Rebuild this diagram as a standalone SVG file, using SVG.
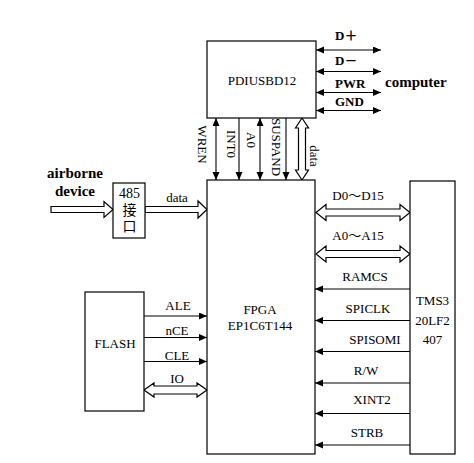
<svg xmlns="http://www.w3.org/2000/svg" width="474" height="463" viewBox="0 0 474 463">
<style>
.box{fill:#fff;stroke:#000;stroke-width:1.2}
.ln{fill:none;stroke:#000;stroke-width:1.1}
.hol{fill:#fff;stroke:#000;stroke-width:1.2;stroke-linejoin:miter}
.t{font-family:'Liberation Serif','DejaVu Serif',serif;font-size:13px;fill:#000}
.tb{font-family:'Liberation Serif','DejaVu Serif',serif;font-size:13px;font-weight:bold;fill:#000}
.cjk{font-family:'Liberation Serif','Noto Sans CJK SC',serif}
.big{font-size:15px}
.m{text-anchor:middle}
</style>
<defs>
<marker id="ah" markerUnits="userSpaceOnUse" markerWidth="9" markerHeight="8" refX="8" refY="3.5" orient="auto-start-reverse">
<path d="M0,0 L8,3.5 L0,7 z" fill="#000"/>
</marker>
</defs>
<rect width="474" height="463" fill="#fff"/>
<g id="connectors">
<line class="ln" x1="316" y1="50" x2="381" y2="50" marker-start="url(#ah)" marker-end="url(#ah)"/>
<line class="ln" x1="316" y1="71.5" x2="381" y2="71.5" marker-start="url(#ah)" marker-end="url(#ah)"/>
<line class="ln" x1="316" y1="92.5" x2="381" y2="92.5" marker-start="url(#ah)" marker-end="url(#ah)"/>
<line class="ln" x1="316" y1="110.5" x2="381" y2="110.5" marker-start="url(#ah)" marker-end="url(#ah)"/>
<line class="ln" x1="216" y1="118" x2="216" y2="180" marker-start="url(#ah)" marker-end="url(#ah)"/>
<line class="ln" x1="239" y1="118" x2="239" y2="180" marker-end="url(#ah)"/>
<line class="ln" x1="260" y1="118" x2="260" y2="180" marker-start="url(#ah)" marker-end="url(#ah)"/>
<line class="ln" x1="286" y1="118" x2="286" y2="180" marker-end="url(#ah)"/>
<polygon class="hol" points="302,118 308.5,128 305.5,128 305.5,170 308.5,170 302,180 295.5,170 298.5,170 298.5,128 295.5,128"/>
<polygon class="hol" points="51,206.5 104,206.5 104,201.5 113,209.5 104,217.5 104,212.5 51,212.5"/>
<polygon class="hol" points="145,206.5 198,206.5 198,201 207,209.5 198,218 198,212.5 145,212.5"/>
<polygon class="hol" points="316,212.5 326,204.5 326,209 400,209 400,204.5 410,212.5 400,220.5 400,216 326,216 326,220.5"/>
<polygon class="hol" points="316,254 326,246 326,250.5 400,250.5 400,246 410,254 400,262 400,257.5 326,257.5 326,262"/>
<line class="ln" x1="410" y1="289" x2="315" y2="289" marker-end="url(#ah)"/>
<line class="ln" x1="410" y1="320.5" x2="315" y2="320.5" marker-end="url(#ah)"/>
<line class="ln" x1="410" y1="351.5" x2="315" y2="351.5" marker-end="url(#ah)"/>
<line class="ln" x1="410" y1="383" x2="315" y2="383" marker-end="url(#ah)"/>
<line class="ln" x1="410" y1="413.5" x2="315" y2="413.5" marker-end="url(#ah)"/>
<line class="ln" x1="410" y1="445" x2="315" y2="445" marker-end="url(#ah)"/>
<line class="ln" x1="144" y1="316" x2="207" y2="316" marker-end="url(#ah)"/>
<line class="ln" x1="144" y1="337.5" x2="207" y2="337.5" marker-end="url(#ah)"/>
<line class="ln" x1="144" y1="361.5" x2="207" y2="361.5" marker-end="url(#ah)"/>
<polygon class="hol" points="144,390 154,383 154,386 197,386 197,383 207,390 197,397 197,394 154,394 154,397"/>
</g>
<g id="labels">
<text class="tb cjk" x="335" y="40">D＋</text>
<text class="tb cjk" x="335" y="65">D－</text>
<text class="tb" x="335" y="88">PWR</text>
<text class="tb" x="335" y="106">GND</text>
<text class="t" transform="translate(198,144.5) rotate(90)" text-anchor="middle">WREN</text>
<text class="t" transform="translate(226.5,144) rotate(90)" text-anchor="middle">INT0</text>
<text class="t" transform="translate(246.5,140) rotate(90)" text-anchor="middle">A0</text>
<text class="t" transform="translate(272,147) rotate(90)" text-anchor="middle">SUSPAND</text>
<text class="t" transform="translate(309.5,156) rotate(90)" text-anchor="middle">data</text>
<text class="t m" x="177" y="202">data</text>
<text class="t cjk m" x="358" y="199.5">D0～D15</text>
<text class="t cjk m" x="358" y="240">A0～A15</text>
<text class="t m" x="365" y="281">RAMCS</text>
<text class="t m" x="368" y="312.5">SPICLK</text>
<text class="t m" x="375" y="344">SPISOMI</text>
<text class="t m" x="366" y="374.5">R/W</text>
<text class="t m" x="372" y="403.5">XINT2</text>
<text class="t m" x="367" y="437">STRB</text>
<text class="t m" x="178" y="310">ALE</text>
<text class="t m" x="177" y="335">nCE</text>
<text class="t m" x="177" y="359.5">CLE</text>
<text class="t m" x="177" y="383">IO</text>
</g>
<g id="computer"><text class="tb big" x="385" y="87">computer</text></g>
<g id="airborne"><text class="tb big m" x="75" y="178">airborne</text><text class="tb big m" x="75" y="196">device</text></g>
<g id="pdiusbd12"><rect class="box" x="207" y="41" width="109" height="77"/><text class="t m" x="262" y="85">PDIUSBD12</text></g>
<g id="fpga"><rect class="box" x="207" y="180" width="108" height="274"/><text class="t m" x="260" y="313.5">FPGA</text><text class="t m" x="260" y="330">EP1C6T144</text></g>
<g id="tms"><rect class="box" x="410" y="181" width="45" height="273"/><text class="t m" x="432.5" y="305">TMS3</text><text class="t m" x="432.5" y="324.5">20LF2</text><text class="t m" x="432.5" y="344">407</text></g>
<g id="rs485"><rect class="box" x="113" y="183" width="32" height="55"/><text class="t cjk m" x="129.5" y="197.5" style="font-size:14px">485</text><text class="t cjk m" x="129.5" y="215" style="font-size:14px">接</text><text class="t cjk m" x="129.5" y="231" style="font-size:14px">口</text></g>
<g id="flash"><rect class="box" x="85" y="292" width="59" height="119"/><text class="t m" x="115" y="348">FLASH</text></g>
</svg>
